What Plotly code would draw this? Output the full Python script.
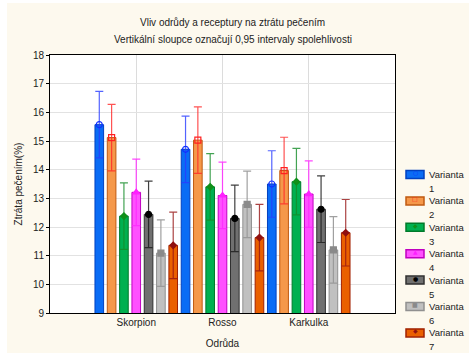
import plotly.graph_objects as go

# Baking loss by variety and recipe variant, with 95 % confidence intervals
odrudy = ["Skorpion", "Rosso", "Karkulka"]
varianty = ["Varianta 1", "Varianta 2", "Varianta 3", "Varianta 4",
            "Varianta 5", "Varianta 6", "Varianta 7"]

v1 = [15.57, 14.71, 13.50]
v2 = [15.12, 15.03, 13.97]
v3 = [12.38, 13.40, 13.58]
v4 = [13.21, 13.10, 13.15]
v5 = [12.44, 12.30, 12.62]
v6 = [11.09, 12.79, 11.20]
v7 = [11.36, 11.63, 11.80]
ci95 = 1.16

values = [v1, v2, v3, v4, v5, v6, v7]

fill_colors = ["#0a6cf5", "#f5984a", "#00b050", "#ff50ff", "#707070", "#c0c0c0", "#ea6000"]
edge_colors = ["#0040c0", "#c05a10", "#007a2a", "#c000c0", "#303030", "#909090", "#a02000"]
err_colors = ["rgba(40,60,255,0.8)", "rgba(255,40,40,0.8)", "rgba(20,140,40,0.8)",
              "rgba(255,40,255,0.85)", "rgba(30,30,30,0.85)", "rgba(150,150,150,0.9)",
              "rgba(150,20,20,0.8)"]
mark_symbols = ["circle-open", "square-open", "diamond", "triangle-up",
                "circle", "square", "diamond"]
mark_glyphs = ["○", "□", "◆", "▲", "●", "■", "◆"]
mark_colors = ["#1030ff", "#ff2020", "#10901a", "#ff20ff", "#000000", "#8a8a8a", "#901010"]
mark_sizes = [6, 6, 5, 6, 6, 6, 5]

fig = go.Figure()

for i, name in enumerate(varianty):
    fig.add_trace(go.Bar(
        x=odrudy, y=values[i], name=name, showlegend=False,
        marker=dict(color=fill_colors[i], line=dict(color=edge_colors[i], width=1)),
        error_y=dict(type="constant", value=ci95, color=err_colors[i],
                     thickness=1.2, width=4),
    ))

for i, name in enumerate(varianty):
    fig.add_trace(go.Scatter(
        x=odrudy, y=values[i], mode="markers", showlegend=False,
        marker=dict(symbol=mark_symbols[i], color=mark_colors[i], size=mark_sizes[i],
                    line=dict(color=mark_colors[i], width=1.2)),
        hoverinfo="skip",
    ))

font = "Liberation Sans, Arial, sans-serif"
title_font = dict(family=font, size=10, color="#222222")

# plot area in pixels: left 50, width 345, top 55, height 258
PW, PH, PL, PT = 345.0, 258.0, 50.0, 55.0


def px_x(x):
    return (x - PL) / PW


def px_y(y):
    return 1 - (y - PT) / PH


annotations = [
    dict(text="Vliv odrůdy a receptury na ztrátu pečením",
         xref="paper", yref="paper", x=0.53, y=px_y(22),
         xanchor="center", yanchor="middle", showarrow=False, font=title_font),
    dict(text="Vertikální sloupce označují 0,95 intervaly spolehlivosti",
         xref="paper", yref="paper", x=0.53, y=px_y(40),
         xanchor="center", yanchor="middle", showarrow=False, font=title_font),
]
shapes = [
    dict(type="rect", xref="paper", yref="paper", layer="below",
         x0=px_x(0), x1=px_x(7), y0=px_y(353), y1=px_y(0),
         fillcolor="#ffffff", line=dict(width=0)),
    dict(type="rect", xref="paper", yref="paper", layer="below",
         x0=px_x(0), x1=px_x(469), y0=px_y(3), y1=px_y(0),
         fillcolor="#ffffff", line=dict(width=0)),
]

# legend: coloured box with the mean marker, then the two-line label
legend_top, legend_step = 174.5, 26.4
for i, name in enumerate(varianty):
    cy = legend_top + i * legend_step
    word, num = name.split(" ")
    shapes.append(dict(type="rect", xref="paper", yref="paper",
                       x0=px_x(406), x1=px_x(424), y0=px_y(cy + 4), y1=px_y(cy - 4),
                       fillcolor=fill_colors[i], line=dict(color=edge_colors[i], width=1.5)))
    annotations.append(dict(text=mark_glyphs[i], xref="paper", yref="paper",
                            x=px_x(415), y=px_y(cy), xanchor="center", yanchor="middle",
                            yshift=2, showarrow=False,
                            font=dict(family="DejaVu Sans", size=6, color=mark_colors[i])))
    annotations.append(dict(text=word, xref="paper", yref="paper",
                            x=px_x(427), y=px_y(cy), xanchor="left", yanchor="middle",
                            showarrow=False, font=dict(family=font, size=9.5, color="#222222")))
    annotations.append(dict(text=num, xref="paper", yref="paper",
                            x=px_x(427), y=px_y(cy + 14), xanchor="left", yanchor="middle",
                            showarrow=False, font=dict(family=font, size=9.5, color="#222222")))

fig.update_layout(
    width=469, height=353,
    barmode="group", bargap=0.0, bargroupgap=0.3,
    scattermode="group", scattergap=0.0,
    paper_bgcolor="#fdf9ee", plot_bgcolor="#ffffff",
    margin=dict(l=50, r=74, t=55, b=40, autoexpand=False),
    font=dict(family=font, size=10, color="#222222"),
    showlegend=False,
    xaxis=dict(
        type="category", range=[-1, 3], showgrid=True, gridcolor="#dcdcdc",
        gridwidth=1, showline=True, linecolor="#000000", linewidth=1, mirror=True,
        ticks="", title=dict(text="Odrůda", standoff=12, font=dict(size=10)),
        tickfont=dict(size=10),
    ),
    yaxis=dict(
        range=[9, 18], dtick=1, showgrid=True, gridcolor="#e2e2e2", gridwidth=1,
        showline=True, linecolor="#000000", linewidth=1, mirror=True,
        ticks="outside", ticklen=3, tickcolor="#000000",
        title=dict(text="Ztráta pečením(%)", standoff=8, font=dict(size=10)),
        tickfont=dict(size=10), zeroline=False,
    ),
    annotations=annotations,
    shapes=shapes,
)

fig.write_html("out.html")
